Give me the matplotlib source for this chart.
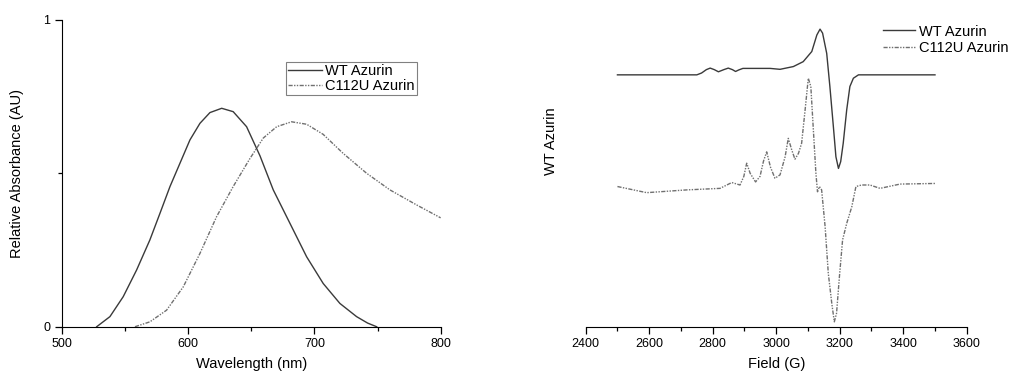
import numpy as np
import matplotlib
matplotlib.use("Agg")
import matplotlib.pyplot as plt
from matplotlib.ticker import MultipleLocator

plt.rcParams['font.family'] = ['Liberation Sans', 'DejaVu Sans']

# --- UV-vis absorbance ---
wt_nm = [527.7, 538.2, 548.7, 559.3, 569.8, 577.8, 585.7, 593.6, 601.5, 609.4,
         617.3, 626.6, 635.7, 646.3, 656.9, 667.4, 680.6, 693.8, 706.9, 720.1,
         733.3, 742.0, 749.2]
wt_abs = [0.0, 0.033, 0.098, 0.185, 0.283, 0.370, 0.457, 0.533, 0.609, 0.663,
          0.698, 0.712, 0.701, 0.652, 0.557, 0.446, 0.337, 0.228, 0.141, 0.076,
          0.033, 0.012, 0.0]
mut_nm = [558.0, 569.8, 583.0, 596.2, 609.4, 622.6, 635.7, 648.9, 659.5, 670.1,
          681.9, 693.8, 706.9, 722.7, 741.3, 759.7, 780.8, 799.8]
mut_abs = [0.0, 0.016, 0.054, 0.130, 0.239, 0.359, 0.457, 0.548, 0.615, 0.652,
           0.668, 0.660, 0.627, 0.565, 0.500, 0.446, 0.397, 0.355]

# --- EPR spectra (arbitrary units) ---
wt_field = [2500, 2750, 2765, 2780, 2792, 2805, 2818, 2835, 2849, 2862, 2872, 2882,
            2895, 2981, 3012, 3054, 3085, 3112, 3128, 3138, 3146, 3159, 3169, 3180,
            3188, 3196, 3203, 3211, 3222, 3232, 3243, 3259, 3500]
wt_epr = [0.821, 0.821, 0.827, 0.838, 0.843, 0.838, 0.831, 0.838, 0.843, 0.838,
          0.832, 0.837, 0.842, 0.842, 0.839, 0.848, 0.864, 0.897, 0.951, 0.970,
          0.957, 0.891, 0.783, 0.652, 0.554, 0.516, 0.538, 0.598, 0.707, 0.783,
          0.810, 0.821, 0.821]
mut_field = [2500, 2592, 2718, 2823, 2860, 2886, 2898, 2907, 2918, 2935, 2949, 2960,
             2970, 2982, 2996, 3012, 3028, 3038, 3049, 3059, 3070, 3080, 3091, 3101,
             3109, 3117, 3125, 3130, 3136, 3143, 3154, 3164, 3175, 3183, 3190, 3199,
             3209, 3222, 3238, 3251, 3269, 3295, 3327, 3390, 3500]
mut_epr = [0.457, 0.437, 0.446, 0.451, 0.470, 0.462, 0.490, 0.533, 0.500, 0.472,
           0.490, 0.540, 0.570, 0.520, 0.484, 0.495, 0.554, 0.614, 0.576, 0.546,
           0.565, 0.598, 0.707, 0.810, 0.783, 0.641, 0.500, 0.440, 0.457, 0.446,
           0.326, 0.174, 0.076, 0.016, 0.044, 0.163, 0.283, 0.337, 0.391, 0.457,
           0.462, 0.462, 0.451, 0.465, 0.467]

wt_color = '#3a3a3a'
mut_color = '#707070'
mut_ls = (0, (3, 1, 1, 1, 1, 1))
tick_fs = 9
label_fs = 10.5
legend_fs = 10.5

fig = plt.figure(figsize=(10.14, 3.76), dpi=100)

# left panel: absorbance
ax1 = fig.add_axes([0.0608, 0.131, 0.374, 0.816])
ax1.plot(wt_nm, wt_abs, color=wt_color, lw=1.0, label='WT Azurin')
ax1.plot(mut_nm, mut_abs, color=mut_color, lw=1.0, ls=mut_ls, label='C112U Azurin')
ax1.set_xlim(500, 800)
ax1.set_ylim(0, 1)
ax1.set_xticks([500, 600, 700, 800])
ax1.xaxis.set_minor_locator(MultipleLocator(50))
ax1.set_yticks([0, 1])
ax1.yaxis.set_minor_locator(MultipleLocator(0.5))
ax1.spines[['top', 'right']].set_visible(False)
ax1.tick_params(which='major', length=5, width=0.9, labelsize=tick_fs, pad=3)
ax1.tick_params(which='minor', length=3, width=0.9)
ax1.set_xlabel('Wavelength (nm)', fontsize=label_fs)
ax1.set_ylabel('Relative Absorbance (AU)', fontsize=label_fs)
ax1.yaxis.set_label_coords(-0.1, 0.5)
ax1.xaxis.set_label_coords(0.5, -0.1)
leg1 = ax1.legend(loc='upper left', bbox_to_anchor=(0.591, 0.863), borderaxespad=0,
                  fontsize=legend_fs, fancybox=False, handlelength=2.3, handletextpad=0.25,
                  borderpad=0.15, labelspacing=0.05, framealpha=1)
leg1.get_frame().set_edgecolor('#808080')
leg1.get_frame().set_linewidth(0.8)

# right panel: EPR
ax2 = fig.add_axes([0.5776, 0.131, 0.3758, 0.816])
ax2.plot(wt_field, wt_epr, color=wt_color, lw=1.0, label='WT Azurin')
ax2.plot(mut_field, mut_epr, color=mut_color, lw=1.0, ls=mut_ls, label='C112U Azurin')
ax2.set_xlim(2400, 3600)
ax2.set_ylim(0, 1)
ax2.set_xticks(np.arange(2400, 3601, 200))
ax2.xaxis.set_minor_locator(MultipleLocator(100))
ax2.set_yticks([])
ax2.spines[['top', 'right', 'left']].set_visible(False)
ax2.tick_params(which='major', length=5, width=0.9, labelsize=tick_fs, pad=3)
ax2.tick_params(which='minor', length=3, width=0.9)
ax2.set_xlabel('Field (G)', fontsize=label_fs)
ax2.xaxis.set_label_coords(0.5, -0.1)
ax2.set_ylabel('WT Azurin', fontsize=label_fs)
ax2.yaxis.set_label_coords(-0.073, 0.605)
ax2.legend(loc='upper left', bbox_to_anchor=(0.78, 0.985), borderaxespad=0,
           fontsize=legend_fs, frameon=False, handlelength=2.2, handletextpad=0.25,
           borderpad=0, labelspacing=0.2)

fig.savefig('out.png', dpi=100)
